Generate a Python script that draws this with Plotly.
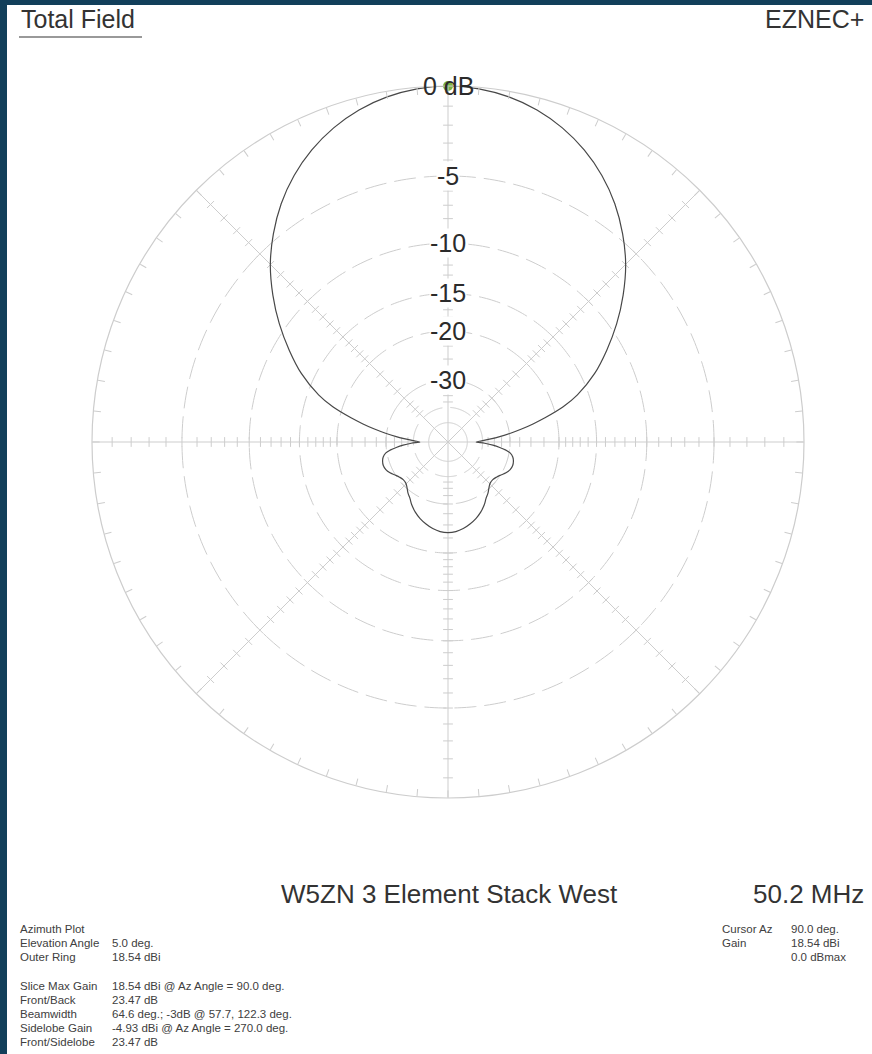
import plotly.graph_objects as go

# ---------------- data ----------------
az_deg = [0, 2, 4, 6, 8, 10, 12, 14, 17, 20, 25, 30, 35, 40, 45, 50, 55, 60, 65, 70, 75, 80, 85, 90,
          95, 100, 105, 110, 115, 120, 125, 130, 135, 140, 145, 150, 155, 160, 163, 166, 168, 170, 172,
          174, 176, 178, 180,
          182, 184, 186, 188, 190, 193, 196, 200, 204, 208, 212, 216, 220, 224, 228, 232, 236, 240, 245,
          250, 255, 260, 265, 270,
          275, 280, 285, 290, 295, 300, 304, 308, 312, 316, 320, 324, 328, 332, 336, 340, 344, 347, 350,
          352, 354, 356, 358, 360]
gain_db = [-43.5, -40.5, -36.8, -33.0, -29.7, -26.8, -24.2, -21.8, -18.6, -16.3, -13.55, -11.4, -9.4, -7.6,
           -5.98, -4.64, -3.47, -2.5, -1.71, -1.08, -0.6, -0.27, -0.07, 0.0,
           -0.07, -0.27, -0.6, -1.08, -1.71, -2.5, -3.47, -4.64, -5.98, -7.6, -9.4, -11.4, -13.55, -16.3,
           -18.6, -21.8, -24.2, -26.8, -29.7, -33.0, -36.8, -40.5, -43.5,
           -39.0, -35.5, -33.0, -31.0, -29.7, -28.8, -28.4, -28.2, -28.4, -29.0, -29.9, -30.6, -31.0,
           -30.9, -30.2, -29.2, -28.4, -27.3, -26.2, -25.3, -24.6, -24.0, -23.6, -23.47,
           -23.6, -24.0, -24.6, -25.3, -26.2, -27.3, -28.4, -29.2, -30.2, -30.9, -31.0, -30.6, -29.9,
           -29.0, -28.4, -28.2, -28.4, -28.8, -29.7, -31.0, -33.0, -35.5, -39.0, -43.5]

ring_db = [-5, -10, -15, -20, -30, -40]
ring_labels = ["-5", "-10", "-15", "-20", "-30"]
label_db = [-5, -10, -15, -20, -30]
inner_ring_db = -50
spoke_angles = [0, 45, 90, 135]
spoke_tick_db = [-1, -2, -3, -4, -5, -6, -7, -8, -9, -10, -11, -12, -13, -14, -15, -16, -17, -18, -19, -20,
                 -22.5, -25, -27.5, -30, -32.5, -35, -37.5]
cursor_az = 90.0
cursor_db = 0.0

title_text = "W5ZN 3 Element Stack West"
freq_text = "50.2 MHz"
info_left_labels = ["Azimuth Plot", "Elevation Angle", "Outer Ring", "", "Slice Max Gain", "Front/Back",
                    "Beamwidth", "Sidelobe Gain", "Front/Sidelobe"]
info_left_values = ["", "5.0 deg.", "18.54 dBi", "", "18.54 dBi @ Az Angle = 90.0 deg.", "23.47 dB",
                    "64.6 deg.; -3dB @ 57.7, 122.3 deg.", "-4.93 dBi @ Az Angle = 270.0 deg.", "23.47 dB"]
info_right_labels = ["Cursor Az", "Gain", ""]
info_right_values = ["90.0 deg.", "18.54 dBi", "0.0 dBmax"]

# ---------------- layout constants ----------------
W, H = 872, 1054
CX, CY, R = 448, 442, 356
GRID = "#cdcdcd"
FONT = "Liberation Sans, Arial, sans-serif"


def arrl(db):
    """ARRL log radial scale used by EZNEC (0.89 per 2 dB)."""
    return 0.89 ** (-db / 2.0)


def px_x(x):
    return x / W


def px_y(y):
    return 1 - y / H


dom_x = [px_x(CX - R), px_x(CX + R)]
dom_y = [px_y(CY + R), px_y(CY - R)]

fig = go.Figure()
circle_theta = list(range(0, 361))

# dashed rings
for d in ring_db:
    fig.add_trace(go.Scatterpolar(r=[arrl(d)] * len(circle_theta), theta=circle_theta, mode="lines",
                                  line=dict(color=GRID, width=1, dash="22px,8px"),
                                  hoverinfo="skip", showlegend=False))
# inner solid ring
fig.add_trace(go.Scatterpolar(r=[arrl(inner_ring_db)] * len(circle_theta), theta=circle_theta, mode="lines",
                              line=dict(color=GRID, width=1), hoverinfo="skip", showlegend=False))
# spokes
for a in spoke_angles:
    fig.add_trace(go.Scatterpolar(r=[1, 0, 1], theta=[a, a, a + 180], mode="lines",
                                  line=dict(color=GRID, width=1), hoverinfo="skip", showlegend=False))
# spoke tick marks
for a in spoke_angles:
    for th in (a, a + 180):
        fig.add_trace(go.Scatterpolar(
            r=[arrl(d) for d in spoke_tick_db], theta=[th] * len(spoke_tick_db), mode="markers",
            marker=dict(symbol="line-ns", size=7, angle=-th, color=GRID,
                        line=dict(color=GRID, width=1)),
            hoverinfo="skip", showlegend=False))

# pattern
fig.add_trace(go.Scatterpolar(r=[arrl(g) for g in gain_db], theta=az_deg, mode="lines",
                              line=dict(color="#484848", width=1.2, shape="spline", smoothing=1.0),
                              hoverinfo="skip", showlegend=False))
# cursor
fig.add_trace(go.Scatterpolar(r=[arrl(cursor_db)], theta=[cursor_az], mode="markers",
                              marker=dict(size=10, color="#7cb342", line=dict(width=0)),
                              hoverinfo="skip", showlegend=False))
# dummy cartesian trace so overlay axes exist (for label annotations)
fig.add_trace(go.Scatter(x=[0], y=[0], mode="markers", marker=dict(opacity=0), hoverinfo="skip",
                         showlegend=False))

annotations = []
# ring labels on the vertical axis
annotations.append(dict(x=0, y=arrl(0), xref="x", yref="y", text="0 dB", showarrow=False,
                        font=dict(family=FONT, size=25, color="#2b2b2b"), xanchor="center", yanchor="middle"))
for lab, d in zip(ring_labels, label_db):
    annotations.append(dict(x=0, y=arrl(d), xref="x", yref="y", text=lab, showarrow=False,
                            font=dict(family=FONT, size=25, color="#2b2b2b"), xanchor="center",
                            yanchor="middle", bgcolor="white", borderpad=0))

# header texts
annotations.append(dict(x=px_x(19), y=px_y(19), xref="paper", yref="paper", text="Total Field",
                        showarrow=False, xanchor="left", yanchor="middle",
                        font=dict(family=FONT, size=25, color="#333333")))
annotations.append(dict(x=px_x(866), y=px_y(19), xref="paper", yref="paper", text="EZNEC+",
                        showarrow=False, xanchor="right", yanchor="middle",
                        font=dict(family=FONT, size=25, color="#333333")))
# footer titles
annotations.append(dict(x=px_x(CX + 2), y=px_y(894), xref="paper", yref="paper", text=title_text,
                        showarrow=False, xanchor="center", yanchor="middle",
                        font=dict(family=FONT, size=26, color="#333333")))
annotations.append(dict(x=px_x(866), y=px_y(894), xref="paper", yref="paper", text=freq_text,
                        showarrow=False, xanchor="right", yanchor="middle",
                        font=dict(family=FONT, size=26, color="#333333")))

small = dict(family=FONT, size=11.5, color="#404040")
line_h = 14.15
for i, (lab, val) in enumerate(zip(info_left_labels, info_left_values)):
    y = 929 + i * line_h
    if lab:
        annotations.append(dict(x=px_x(18), y=px_y(y), xref="paper", yref="paper", text=lab,
                                showarrow=False, xanchor="left", yanchor="middle", font=small))
    if val:
        annotations.append(dict(x=px_x(110), y=px_y(y), xref="paper", yref="paper", text=val,
                                showarrow=False, xanchor="left", yanchor="middle", font=small))
for i, (lab, val) in enumerate(zip(info_right_labels, info_right_values)):
    y = 929 + i * line_h
    if lab:
        annotations.append(dict(x=px_x(720), y=px_y(y), xref="paper", yref="paper", text=lab,
                                showarrow=False, xanchor="left", yanchor="middle", font=small))
    if val:
        annotations.append(dict(x=px_x(789), y=px_y(y), xref="paper", yref="paper", text=val,
                                showarrow=False, xanchor="left", yanchor="middle", font=small))

shapes = [
    # dark frame strips (left and top)
    dict(type="rect", xref="paper", yref="paper", x0=0, x1=px_x(7), y0=0, y1=1,
         fillcolor="#123f5a", line=dict(width=0), layer="below"),
    dict(type="rect", xref="paper", yref="paper", x0=0, x1=1, y0=px_y(5), y1=1,
         fillcolor="#123f5a", line=dict(width=0), layer="below"),
    # underline under "Total Field"
    dict(type="line", xref="paper", yref="paper", x0=px_x(19), x1=px_x(142), y0=px_y(37), y1=px_y(37),
         line=dict(color="#777777", width=1.5)),
]

fig.update_layout(
    width=W, height=H, margin=dict(l=0, r=0, t=0, b=0),
    paper_bgcolor="white", plot_bgcolor="rgba(0,0,0,0)",
    showlegend=False,
    polar=dict(
        domain=dict(x=dom_x, y=dom_y),
        bgcolor="white",
        radialaxis=dict(range=[0, 1], showgrid=False, showticklabels=False, showline=False, ticks=""),
        angularaxis=dict(rotation=0, direction="counterclockwise", showgrid=False, showticklabels=False,
                         showline=True, linecolor=GRID, linewidth=1.2, ticks="inside", ticklen=7,
                         tickcolor=GRID, tickwidth=1, tickmode="array", tickvals=list(range(0, 360, 5))),
    ),
    xaxis=dict(domain=dom_x, range=[-1, 1], visible=False, fixedrange=True),
    yaxis=dict(domain=dom_y, range=[-1, 1], visible=False, fixedrange=True),
    annotations=annotations,
    shapes=shapes,
)

fig.write_html("out.html", config=dict(displayModeBar=False),
               post_script="document.body.style.margin='0';document.body.style.overflow='hidden';")
